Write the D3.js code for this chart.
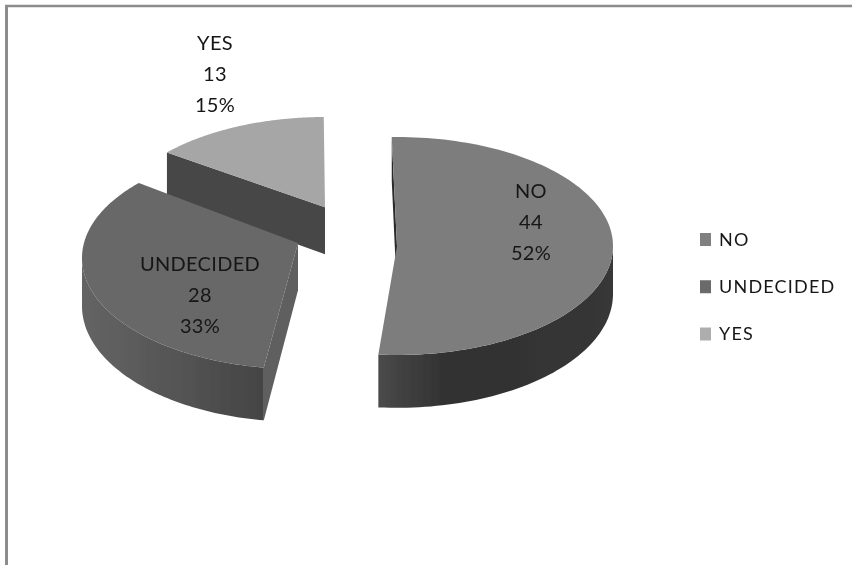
<!DOCTYPE html>
<html>
<head>
<meta charset="utf-8">
<script src="https://cdn.jsdelivr.net/npm/d3@7"></script>
<style>
  html, body { margin: 0; padding: 0; background: #fff; }
  text { font-family: Lato, "Open Sans", sans-serif; fill: #161616; }
</style>
</head>
<body>
<div id="chart"></div>
<script>
// chart values
const categories = ["NO", "UNDECIDED", "YES"];
const counts = [44, 28, 13];

// greys of the top faces
const topColors = ["#7d7d7d", "#676767", "#a6a6a6"];
const legendColors = ["#808080", "#6b6b6b", "#adadad"];

const width = 852, height = 565;
const rad = Math.PI / 180;

// where each exploded slice sits; persp moves the apex back from the ellipse centre
const layout = {
  NO:        { cx: 397, cy: 246, rx: 216, ry: 109, persp: 0,    twist: 0, labelX: 531, labelY: 191 },
  UNDECIDED: { cx: 298, cy: 258, rx: 216, ry: 111, persp: .135, twist: 3, labelX: 200, labelY: 264 },
  YES:       { cx: 325, cy: 227, rx: 215, ry: 110, persp: .18,  twist: 1, labelX: 215, labelY: 43 }
};
const depth = 48;
const linePitch = 31;

let svg = d3.select("#chart").append("svg")
  .attr("width", width)
  .attr("height", height)
  .style("display", "block");

let defs = svg.append("defs");
defs.append("filter").attr("id", "soft")
  .append("feGaussianBlur").attr("stdDeviation", 0.45);

function wallGradient(id, stops) {
  let g = defs.append("linearGradient").attr("id", id);
  stops.forEach(s => g.append("stop").attr("offset", s[0]).attr("stop-color", s[1]));
}
wallGradient("wallNO", [[0, "#4a4a4a"], [.3, "#303030"], [1, "#373737"]]);
wallGradient("wallUNDECIDED", [[0, "#646464"], [.6, "#525252"], [1, "#444444"]]);

// frame of the original picture
svg.append("line").attr("x1", 6.5).attr("x2", 6.5).attr("y1", 5).attr("y2", height)
  .attr("stroke", "#8c8c8c").attr("stroke-width", 3);
svg.append("line").attr("x1", 5).attr("x2", width).attr("y1", 6).attr("y2", 6)
  .attr("stroke", "#8c8c8c").attr("stroke-width", 2.4);

// pie angles
let pie = d3.pie().sort(null).startAngle(-1.4 * rad).endAngle(-1.4 * rad + 2 * Math.PI);
let arcs = pie(counts);

// maps a pie angle to the tilted plane, with a bit of perspective
function rimPoint(p, angle) {
  let s = Math.sin(angle), c = -Math.cos(angle);
  let w = 1 - p.persp * c;
  let nx = s * Math.sqrt(1 - p.persp * p.persp) / w;
  let ny = (c - p.persp) / w;
  return { x: p.cx + p.rx * nx, y: p.cy + p.ry * ny, near: ny };
}
function drop(pt) {
  return [pt.x, pt.y + depth * (1 + .1 * pt.near)];
}
let line = d3.line();

let pieGroup = svg.append("g").attr("filter", "url(#soft)");

// colour of the straight cut wall at the start of each slice
const cutColors = ["#2c2c2c", "#5e5e5e", "#474747"];

// back to front: YES, then UNDECIDED, then NO
[2, 1, 0].forEach(i => {
  let name = categories[i];
  let p = layout[name];
  let a0 = arcs[i].startAngle + p.twist * rad;
  let a1 = arcs[i].endAngle + p.twist * rad;
  let steps = d3.range(0, 121).map(k => a0 + (a1 - a0) * k / 120);
  let rim = steps.map(a => rimPoint(p, a));
  let apex = { x: p.cx, y: p.cy - p.ry * p.persp, near: -p.persp };
  let first = rim[0];
  let g = pieGroup.append("g");

  // straight cut wall
  g.append("path")
    .attr("d", line([[apex.x, apex.y], [first.x, first.y], drop(first), drop(apex)]) + "Z")
    .attr("fill", cutColors[i]);

  // curved outside wall, only the part that faces us
  let front = rim.filter(d => d.near >= -.02);
  if (name !== "YES") {
    let pts = front.map(d => [d.x, d.y]).concat(front.slice().reverse().map(drop));
    g.append("path")
      .attr("d", line(pts) + "Z")
      .attr("fill", "url(#wall" + name + ")");
  }

  // top face
  let face = [[apex.x, apex.y]].concat(rim.map(d => [d.x, d.y]));
  g.append("path")
    .attr("d", line(face) + "Z")
    .attr("fill", topColors[i]);
});

// data labels
let total = d3.sum(counts);
let pct = d3.format(".0%");
let labels = svg.append("g")
  .attr("text-anchor", "middle")
  .attr("font-size", 20)
  .attr("letter-spacing", 0.3)
  .attr("filter", "url(#soft)");
categories.forEach((name, i) => {
  let p = layout[name];
  [name, counts[i], pct(counts[i] / total)].forEach((t, k) => {
    labels.append("text")
      .attr("x", p.labelX)
      .attr("y", p.labelY + k * linePitch)
      .attr("dy", "0.36em")
      .text(t);
  });
});

// legend
let legendY = d3.scalePoint().domain(categories).range([239.5, 334]);
let legendColor = d3.scaleOrdinal().domain(categories).range(legendColors);
let legend = svg.append("g").attr("filter", "url(#soft)");
legend.selectAll("rect").data(categories).enter().append("rect")
  .attr("x", 700)
  .attr("y", d => legendY(d) - 6.5)
  .attr("width", 11)
  .attr("height", 13)
  .attr("fill", d => legendColor(d));
legend.selectAll("text").data(categories).enter().append("text")
  .attr("x", 719)
  .attr("y", d => legendY(d))
  .attr("dy", "0.36em")
  .attr("font-size", 18)
  .attr("letter-spacing", 1.2)
  .text(d => d);
</script>
</body>
</html>
